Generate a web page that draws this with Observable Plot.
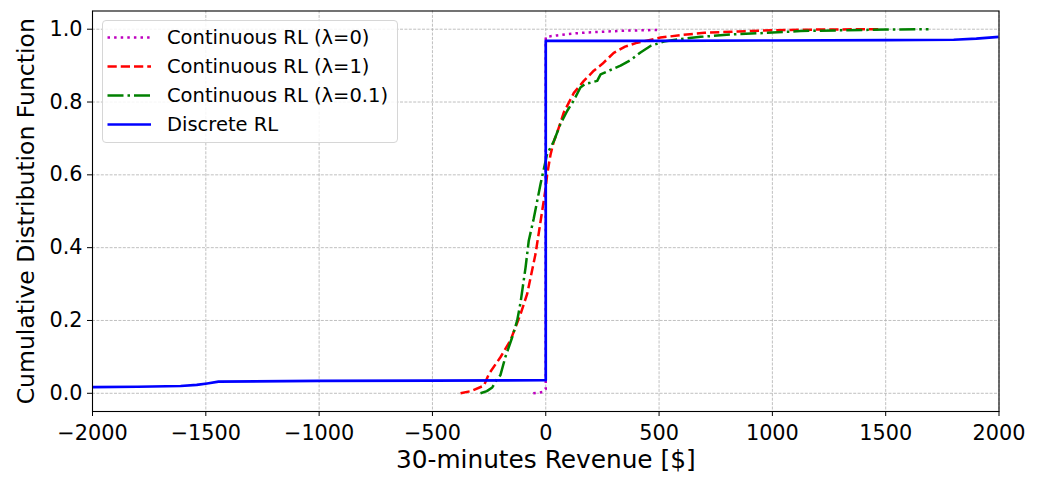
<!DOCTYPE html>
<html><head><meta charset="utf-8">
<script src="https://cdn.jsdelivr.net/npm/d3@7"></script>
<script src="https://cdn.jsdelivr.net/npm/@observablehq/plot@0.6"></script>
<style>
body{margin:0;background:#fff;font-family:"DejaVu Sans",sans-serif;}
#wrap{position:relative;width:1041px;height:477px;}
#legend{position:absolute;left:102px;top:20px;width:296px;height:123px;border:1px solid #d6d6d6;border-radius:4px;background:rgba(255,255,255,0.85);box-sizing:border-box;}
#legend svg{position:absolute;left:0;top:0;}
</style></head><body><div id="wrap"></div>
<script>
// ---------- data ----------
const seriesNames = ["Continuous RL (\u03bb=0)", "Continuous RL (\u03bb=1)", "Continuous RL (\u03bb=0.1)", "Discrete RL"];
const xTicks = [-2000, -1500, -1000, -500, 0, 500, 1000, 1500, 2000];
const yTicks = [0, 0.2, 0.4, 0.6, 0.8, 1.0];
const xLabel = "30-minutes Revenue [$]";
const yLabel = "Cumulative Distribution Function";

const lam0X = [-55, -30, -10, 0, 0, 50, 100, 180, 250, 350, 500];
const lam0Y = [0.0, 0.002, 0.004, 0.012, 0.979, 0.983, 0.987, 0.991, 0.993, 0.996, 0.998];

const lam1X = [-376, -330, -273, -251, -200, -156, -111, -82, -45, -16, 0, 6, 21, 36, 50, 80, 124, 168, 212, 250, 300, 350, 404, 506, 600, 700, 850, 1000, 1200, 1480];
const lam1Y = [0.0, 0.006, 0.021, 0.053, 0.099, 0.145, 0.218, 0.273, 0.383, 0.5, 0.565, 0.6, 0.655, 0.693, 0.715, 0.772, 0.825, 0.858, 0.886, 0.905, 0.935, 0.952, 0.963, 0.977, 0.984, 0.99, 0.994, 0.997, 0.999, 1.0];

const lam01X = [-288, -260, -236, -214, -200, -178, -148, -126, -111, -89, -75, -53, -23, 6, 36, 65, 95, 124, 153, 175, 197, 227, 242, 286, 330, 374, 418, 462, 521, 595, 683, 830, 977, 1124, 1300, 1500, 1689];
const lam01Y = [0.0, 0.006, 0.016, 0.04, 0.05, 0.1, 0.154, 0.2, 0.25, 0.346, 0.419, 0.48, 0.575, 0.657, 0.693, 0.74, 0.776, 0.805, 0.84, 0.85, 0.853, 0.858, 0.876, 0.888, 0.9, 0.915, 0.936, 0.954, 0.966, 0.973, 0.979, 0.986, 0.99, 0.995, 0.997, 0.999, 1.0];

const discX = [-2000, -1800, -1611, -1540, -1494, -1444, -1000, -500, 0, 0, 500, 1000, 1500, 1800, 1900, 2000];
const discY = [0.017, 0.018, 0.020, 0.023, 0.027, 0.032, 0.034, 0.035, 0.036, 0.968, 0.968, 0.969, 0.970, 0.971, 0.974, 0.979];

const colors = ["#bf00bf", "#ff0000", "#008000", "#0000ff"];
const dashes = ["2.5,4.1", "9.25,4", "16,4,2.5,4", "none"];
const widths = [2.5, 2.5, 2.5, 2.7];

// ---------- build ----------
function toRows(xs, ys){ return xs.map((x,i)=>({x, y: ys[i]})); }
const seriesData = [toRows(lam0X, lam0Y), toRows(lam1X, lam1Y), toRows(lam01X, lam01Y), toRows(discX, discY)];
const minus = d => d < 0 ? "\u2212" + Math.abs(d) : String(d);
const gridStyle = {stroke: "#b0b0b0", strokeOpacity: 1, strokeWidth: 0.8, strokeDasharray: "3,1.4"};

const chart = Plot.plot({
  width: 1041, height: 477,
  marginLeft: 92, marginRight: 42.5, marginTop: 10.5, marginBottom: 66,
  style: {fontFamily: "DejaVu Sans, sans-serif", background: "white", color: "black"},
  x: {domain: [-2000, 2000]},
  y: {domain: [-0.05, 1.05]},
  marks: [
    Plot.gridX(xTicks, gridStyle),
    Plot.gridY(yTicks, gridStyle),
    ...seriesData.map((d, i) => Plot.line(d, {x: "x", y: "y", stroke: colors[i], strokeWidth: widths[i], strokeDasharray: dashes[i], clip: true, strokeLinecap: "butt", strokeLinejoin: "round"})),
    Plot.frame({stroke: "black", strokeWidth: 1.1}),
    Plot.axisX(xTicks, {tickSize: 5, tickPadding: 9, fontSize: 20.8, tickFormat: minus, label: null}),
    Plot.axisY(yTicks, {tickSize: 5, tickPadding: 5, fontSize: 20.8, tickFormat: d3.format(".1f"), label: null}),
    Plot.text([xLabel], {frameAnchor: "bottom", textAnchor: "middle", lineAnchor: "middle", dy: 48.5, fontSize: 24.8, fill: "black"}),
    Plot.text([yLabel], {frameAnchor: "left", textAnchor: "middle", lineAnchor: "middle", rotate: -90, dx: -66, fontSize: 23.5, fill: "black"})
  ]
});
const wrap = document.getElementById("wrap");
wrap.appendChild(chart);

// legend
const lg = document.createElement("div");
lg.id = "legend";
const ns = "http://www.w3.org/2000/svg";
const svg = document.createElementNS(ns, "svg");
svg.setAttribute("width", 296); svg.setAttribute("height", 123);
seriesNames.forEach((name, i) => {
  const cy = 16.5 + i * 29;
  const ln = document.createElementNS(ns, "line");
  ln.setAttribute("x1", 4.5); ln.setAttribute("x2", 48); ln.setAttribute("y1", cy); ln.setAttribute("y2", cy);
  ln.setAttribute("stroke", colors[i]); ln.setAttribute("stroke-width", widths[i]);
  if (dashes[i] !== "none") ln.setAttribute("stroke-dasharray", dashes[i]);
  svg.appendChild(ln);
  const t = document.createElementNS(ns, "text");
  t.setAttribute("x", 64); t.setAttribute("y", cy); t.setAttribute("dy", "0.35em");
  t.setAttribute("font-size", "19.5px"); t.setAttribute("font-family", "DejaVu Sans, sans-serif");
  t.textContent = name;
  svg.appendChild(t);
});
lg.appendChild(svg);
wrap.appendChild(lg);
</script></body></html>
